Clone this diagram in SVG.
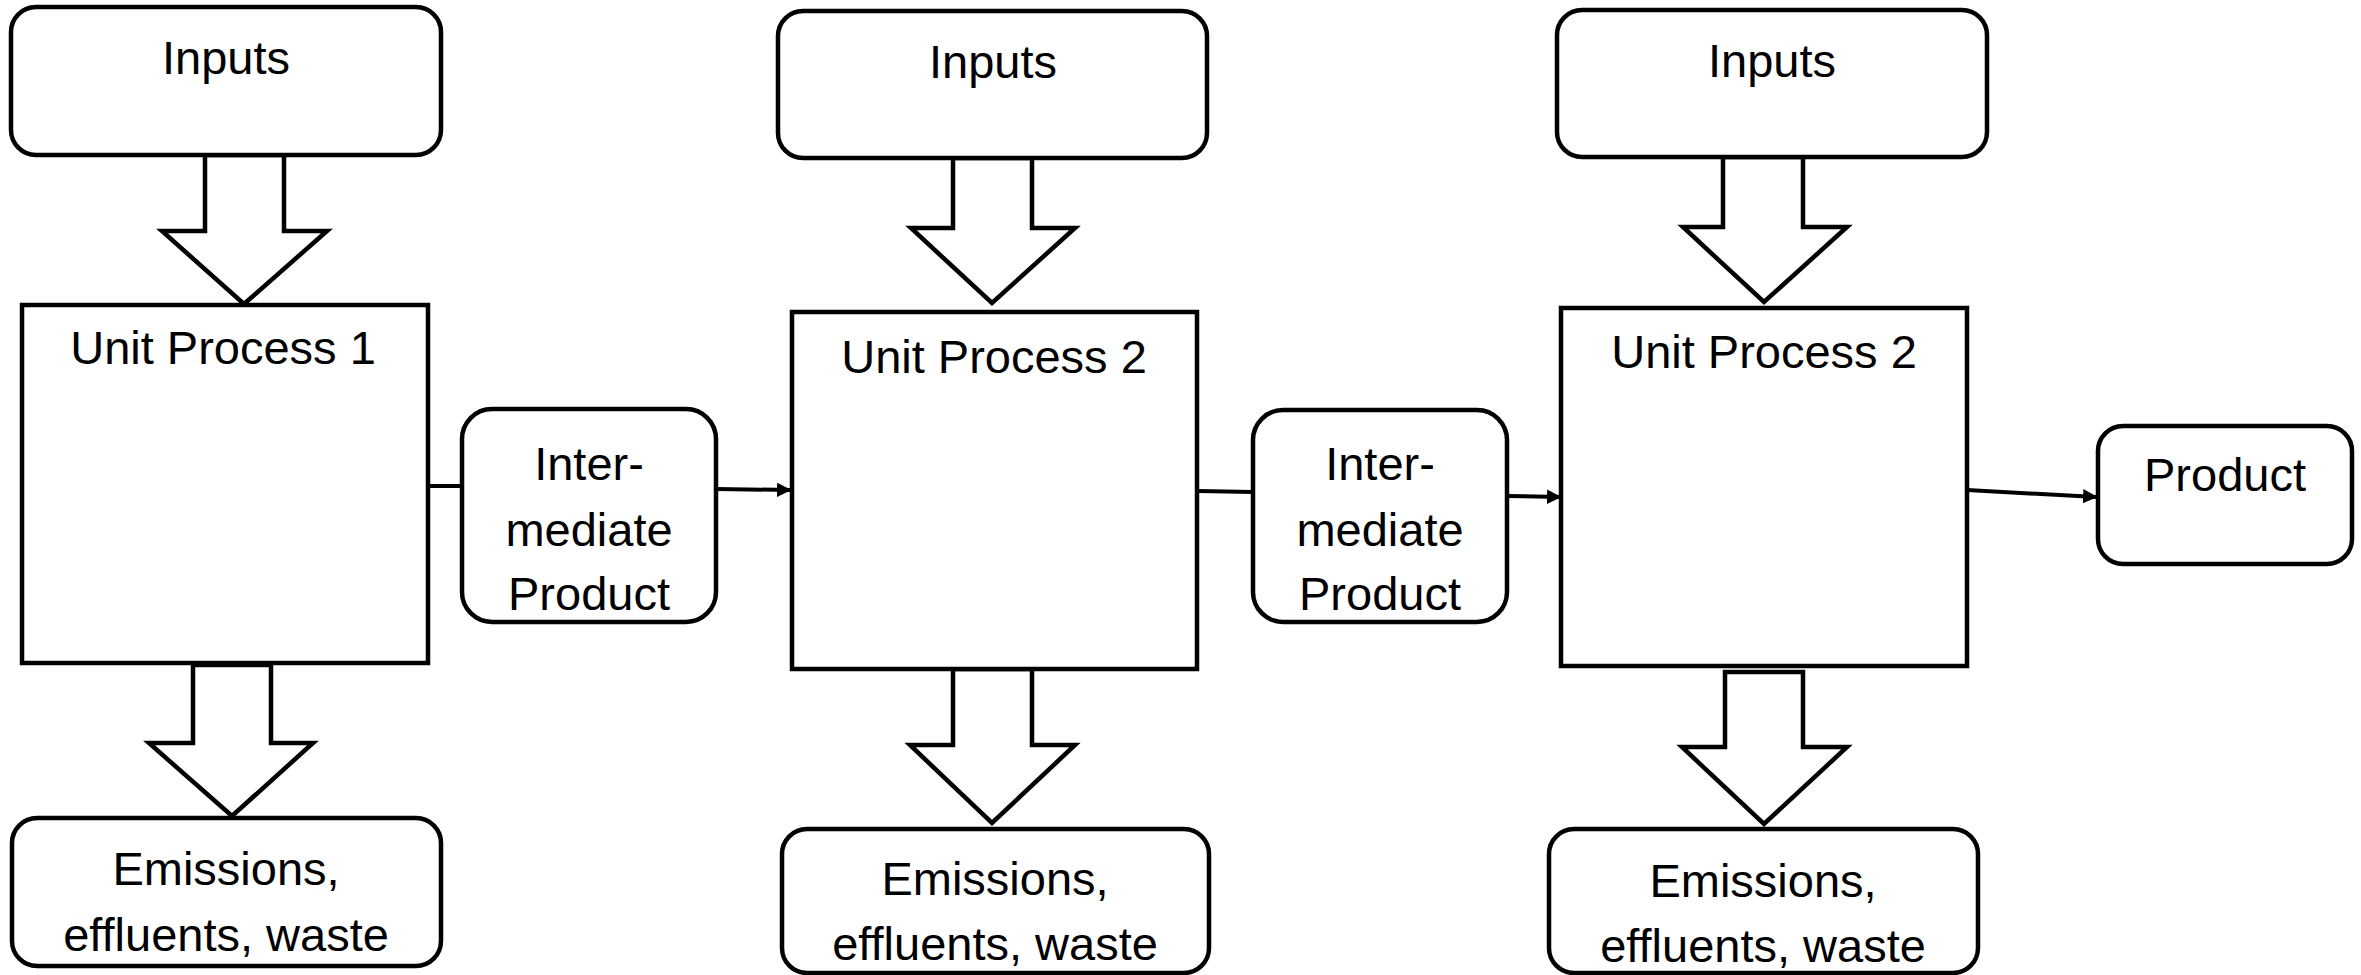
<svg xmlns="http://www.w3.org/2000/svg" width="2361" height="975" viewBox="0 0 2361 975">
  <defs>
    <marker id="arrowhead" viewBox="0 0 10 10" refX="9" refY="5" markerWidth="3.6" markerHeight="3.8" markerUnits="strokeWidth" orient="auto">
      <path d="M0,0 L10,5 L0,10 z" fill="#000"/>
    </marker>
  </defs>
  <style>
    .box { fill: #fff; stroke: #000; stroke-width: 4.5; }
    .block { fill: #fff; stroke: #000; stroke-width: 4.5; stroke-linejoin: miter; }
    .flow { fill: none; stroke: #000; stroke-width: 4; }
    .lbl { font-family: "Liberation Sans", Arial, sans-serif; font-size: 47px; fill: #000; text-anchor: middle; }
  </style>
  <rect width="2361" height="975" fill="#fff"/>

  <!-- block arrows: inputs down into each unit process, and outputs down to waste -->
  <g id="block-arrows">
    <polygon class="block" points="205,155 205,231 162,231 244,304 327,231 284,231 284,155"/>
    <polygon class="block" points="953,158 953,228 911,228 992,303 1075,228 1032,228 1032,158"/>
    <polygon class="block" points="1723,157 1723,227 1683,227 1764,302 1847,227 1803,227 1803,157"/>
    <polygon class="block" points="193,665 193,743 149,743 232,816 313,743 271,743 271,665"/>
    <polygon class="block" points="953,669 953,745 910,745 992,823 1075,745 1032,745 1032,669"/>
    <polygon class="block" points="1725,672 1725,747 1682,747 1764,824 1847,747 1803,747 1803,672"/>
  </g>

  <!-- connectors between process chain boxes -->
  <g id="connectors">
    <line class="flow" x1="428" y1="486" x2="462" y2="486"/>
    <line class="flow" x1="716" y1="489" x2="790" y2="490" marker-end="url(#arrowhead)"/>
    <line class="flow" x1="1198" y1="491" x2="1253" y2="492"/>
    <line class="flow" x1="1507" y1="496" x2="1560" y2="497" marker-end="url(#arrowhead)"/>
    <line class="flow" x1="1967" y1="490" x2="2096" y2="497" marker-end="url(#arrowhead)"/>
  </g>

  <!-- column 1 -->
  <g id="inputs-1">
    <rect class="box" x="11" y="7" width="430" height="148" rx="25"/>
    <text class="lbl" x="226" y="74">Inputs</text>
  </g>
  <g id="unit-process-1">
    <rect class="box" x="22" y="305" width="406" height="358"/>
    <text class="lbl" x="223" y="364">Unit Process 1</text>
  </g>
  <g id="emissions-1">
    <rect class="box" x="12" y="818" width="429" height="148" rx="25"/>
    <text class="lbl" x="226" y="885">Emissions,</text>
    <text class="lbl" x="226" y="951">effluents, waste</text>
  </g>
  <g id="intermediate-1">
    <rect class="box" x="462" y="409" width="254" height="213" rx="30"/>
    <text class="lbl" x="589" y="480">Inter-</text>
    <text class="lbl" x="589" y="546">mediate</text>
    <text class="lbl" x="589" y="610">Product</text>
  </g>

  <!-- column 2 -->
  <g id="inputs-2">
    <rect class="box" x="778" y="11" width="429" height="147" rx="25"/>
    <text class="lbl" x="993" y="78">Inputs</text>
  </g>
  <g id="unit-process-2">
    <rect class="box" x="792" y="312" width="405" height="357"/>
    <text class="lbl" x="994" y="373">Unit Process 2</text>
  </g>
  <g id="emissions-2">
    <rect class="box" x="782" y="829" width="427" height="144" rx="25"/>
    <text class="lbl" x="995" y="895">Emissions,</text>
    <text class="lbl" x="995" y="960">effluents, waste</text>
  </g>
  <g id="intermediate-2">
    <rect class="box" x="1253" y="410" width="254" height="212" rx="30"/>
    <text class="lbl" x="1380" y="480">Inter-</text>
    <text class="lbl" x="1380" y="546">mediate</text>
    <text class="lbl" x="1380" y="610">Product</text>
  </g>

  <!-- column 3 -->
  <g id="inputs-3">
    <rect class="box" x="1557" y="10" width="430" height="147" rx="25"/>
    <text class="lbl" x="1772" y="77">Inputs</text>
  </g>
  <g id="unit-process-3">
    <rect class="box" x="1561" y="308" width="406" height="358"/>
    <text class="lbl" x="1764" y="368">Unit Process 2</text>
  </g>
  <g id="emissions-3">
    <rect class="box" x="1549" y="829" width="429" height="144" rx="25"/>
    <text class="lbl" x="1763" y="897">Emissions,</text>
    <text class="lbl" x="1763" y="962">effluents, waste</text>
  </g>
  <g id="product">
    <rect class="box" x="2098" y="426" width="254" height="138" rx="25"/>
    <text class="lbl" x="2225" y="491">Product</text>
  </g>
</svg>
